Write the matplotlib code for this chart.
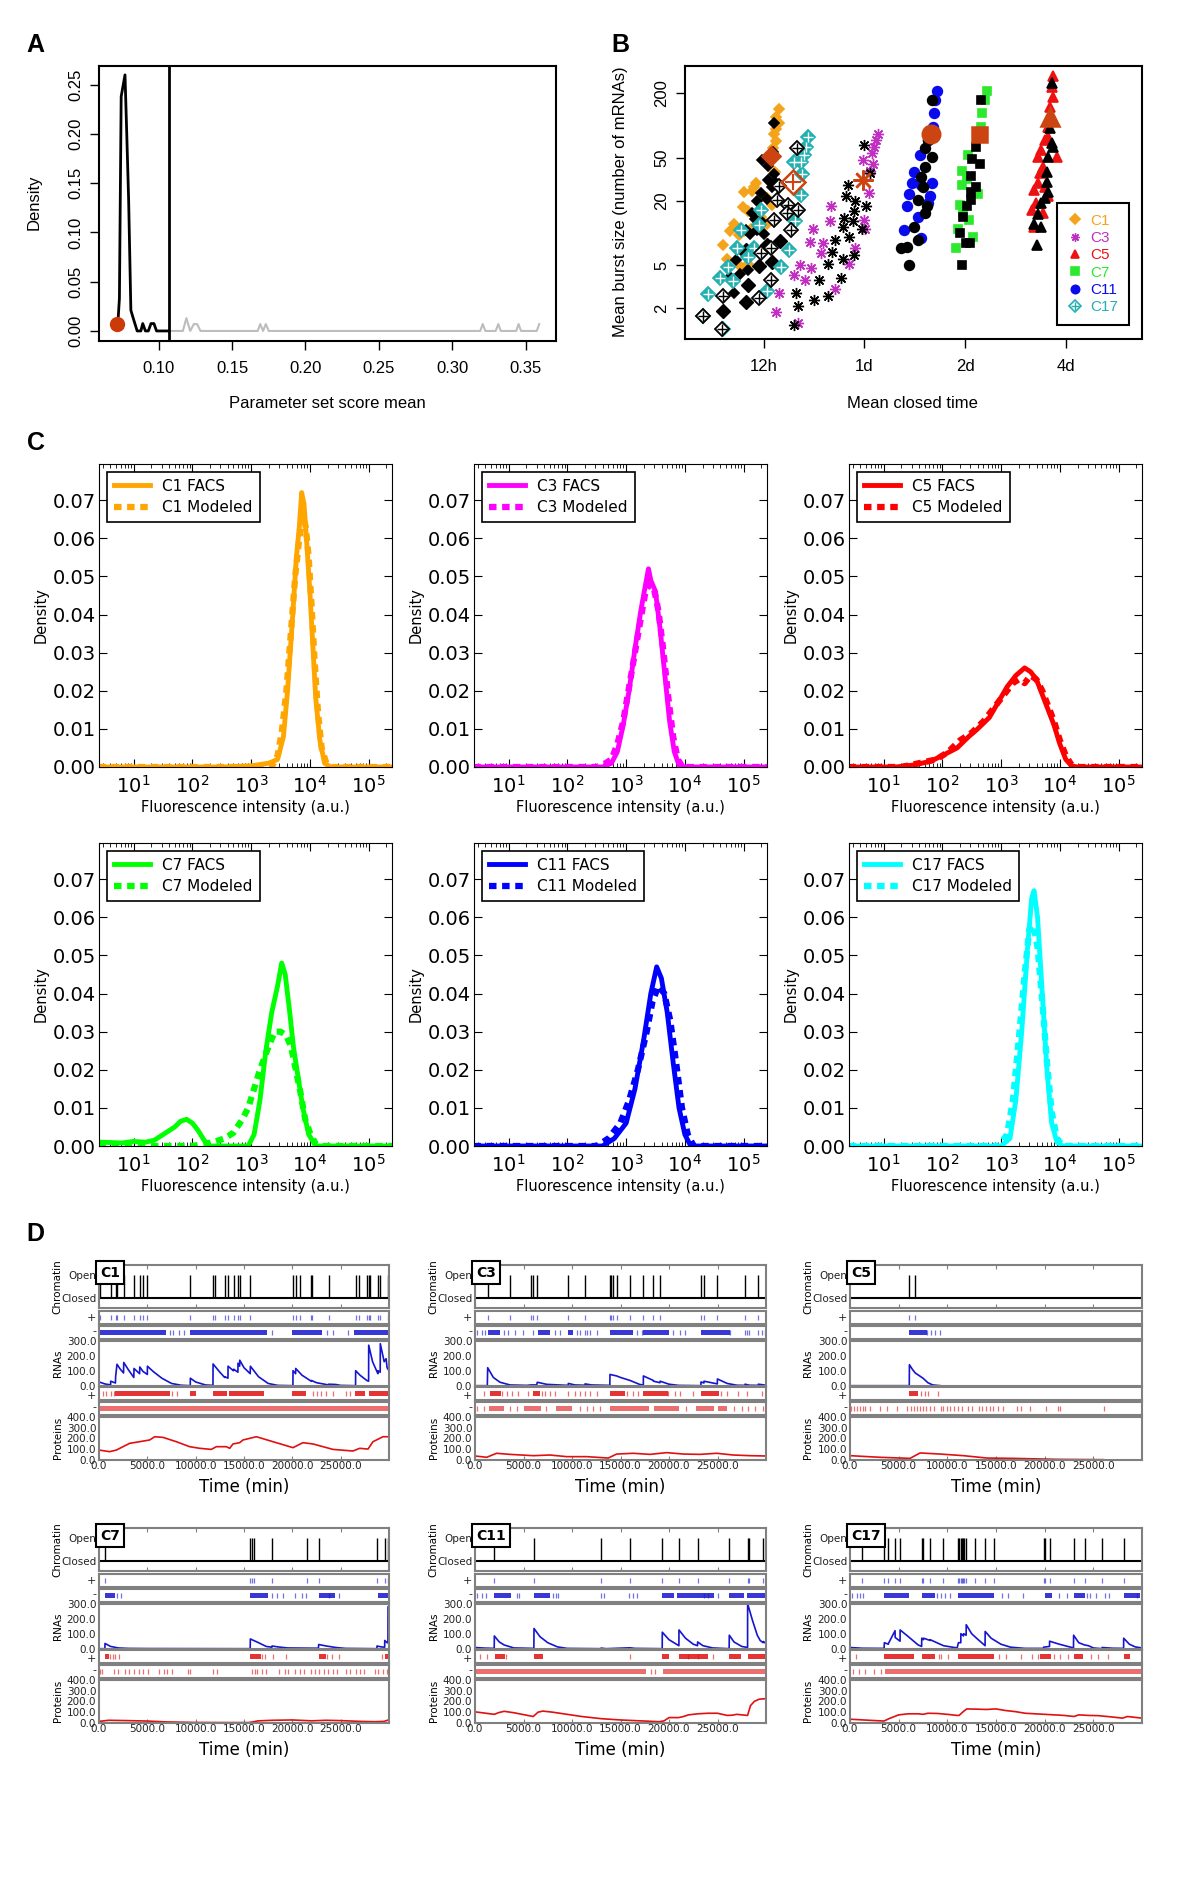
import matplotlib
matplotlib.use('Agg')
import matplotlib.pyplot as plt
from matplotlib.lines import Line2D

W, H = 1200, 1877
RF = 'Liberation Sans'   # R panels (A, B)

# ---------------- Panel A data: parameter set score density ----------------
a_black = [(0.0723, 0.009), (0.0733, 0.033), (0.0745, 0.238), (0.0771, 0.260), (0.0783, 0.200),
           (0.0796, 0.132), (0.0811, 0.021), (0.0829, 0.012), (0.0854, 0.0), (0.0879, 0.0),
           (0.0892, 0.0075), (0.0910, 0.0), (0.0930, 0.0), (0.0948, 0.0075), (0.0968, 0.0075),
           (0.0986, 0.0), (0.1068, 0.0)]
a_gray = [(0.1068, 0), (0.1165, 0), (0.1189, 0.013), (0.1215, 0), (0.1240, 0.007), (0.1262, 0.007),
          (0.1285, 0), (0.1675, 0), (0.1692, 0.007), (0.1711, 0), (0.1730, 0.007), (0.1750, 0),
          (0.3190, 0), (0.3207, 0.007), (0.3225, 0), (0.3295, 0), (0.3313, 0.007), (0.3330, 0),
          (0.3435, 0), (0.3451, 0.007), (0.3468, 0), (0.3575, 0), (0.3592, 0.007)]
a_best = (0.0716, 0.0075)
a_cutoff = 0.1068
a_xticks = [0.10, 0.15, 0.20, 0.25, 0.30, 0.35]
a_yticks = [0.00, 0.05, 0.10, 0.15, 0.20, 0.25]

# ---------------- Panel B data: (mean closed time [h], mean burst size) ----------------
b_c1 = [(13.3, 140), (13.1, 120), (13.3, 105), (13.1, 92), (12.9, 82), (13.1, 72), (12.8, 62), (13.0, 37),
        (11.4, 29), (11.2, 27), (10.5, 24), (11.1, 24.5), (10.4, 17.5), (10.8, 16), (9.8, 12), (9.5, 10.5),
        (9.1, 7.8), (10.1, 9.5), (10.5, 10.5), (10.0, 7), (12.3, 21), (11.8, 14), (12.3, 12), (11.0, 11),
        (9.3, 5.8), (10.8, 5.2), (10.3, 4.8), (12.7, 18)]
b_c1_bk = [(12.9, 105), (12.8, 57), (11.9, 48), (12.4, 42), (12.4, 31), (11.8, 23.5), (11.5, 19.7),
           (12.3, 20.5), (12.7, 27), (13.1, 29), (12.9, 35), (11.1, 15.2), (11.3, 13.6), (11.8, 13),
           (10.6, 10.6), (10.9, 9.8), (11.5, 10.6), (12.0, 9.8), (9.9, 5.6), (10.5, 6.5), (9.5, 3.9),
           (9.8, 2.75), (10.8, 4.5), (10.2, 4.2)]
b_c3 = [(26.3, 83), (25.9, 73), (25.7, 63), (25.3, 55), (23.8, 48), (25.4, 44), (25.0, 38), (24.8, 23.5),
        (23.9, 13.1), (24.1, 11.0), (22.5, 7.2), (21.6, 5.2), (19.6, 3.0), (19.1, 17.7), (18.9, 12.9),
        (16.9, 11.0), (16.5, 8.3), (18.1, 8.0), (17.8, 6.5), (15.4, 5.1), (16.6, 4.7), (14.8, 4.1),
        (15.9, 3.66), (13.3, 2.78), (13.1, 1.87), (15.2, 1.45)]
b_c3_bk = [(24.0, 65), (25.0, 36), (21.4, 28), (21.2, 22), (22.5, 19.7), (24.2, 17.7), (22.4, 16),
           (20.9, 13.7), (22.2, 12.9), (20.7, 11.4), (23.6, 11.0), (21.6, 9.2), (19.6, 8.6), (19.2, 6.7),
           (22.4, 6.3), (20.7, 5.8), (18.7, 5.2), (17.6, 3.7), (20.4, 3.8), (17.0, 2.4), (18.7, 2.6),
           (15.0, 2.75), (15.2, 2.1), (14.8, 1.4)]
b_c5 = [(88, 286), (87, 228), (88, 183), (86, 148), (87, 120), (85, 97), (83, 73), (81, 59), (79, 51),
        (82, 41), (80, 36), (79, 29), (83, 27), (77, 25), (85, 22), (78, 19), (76, 16.5), (82, 15.2),
        (77, 11.4), (85, 78), (90, 51)]
b_c5_bk = [(87, 244), (86, 94), (87, 68), (85, 51), (84, 37), (84, 30), (85, 24), (81, 19), (79, 15),
           (77, 12), (81, 11.4), (78.5, 7.8), (83, 21), (88, 63)]
b_c7 = [(55.7, 209), (55.0, 171), (54, 129), (53.6, 97), (53, 79), (49, 53), (46.8, 38), (48.5, 32),
        (46.9, 28), (52.4, 23), (46.4, 18), (47.4, 15.2), (49.2, 13.1), (45.6, 11.0), (50.5, 9.2), (45, 7.2)]
b_c7_bk = [(53.6, 171), (52.4, 79), (51.6, 63), (50.2, 49), (53, 44), (50.0, 34), (51.6, 27), (50, 24),
           (50, 20.4), (48.5, 17.7), (47.4, 14.2), (46.4, 10.1), (48.1, 8.0), (49.5, 8.0), (46.8, 5.0)]
b_c11 = [(39.5, 207), (39.0, 171), (38.7, 129), (38.4, 97), (37.1, 73), (35.1, 53), (33.8, 37), (33.3, 29),
         (35.5, 28), (32.6, 23), (37.6, 22), (32.1, 17.8), (34.8, 14.2), (31.6, 10.7), (35.4, 9.0),
         (38.3, 29), (37.1, 19)]
b_c11_bk = [(38.3, 171), (37.2, 73), (36.3, 61), (38.3, 51), (36.5, 41), (35.5, 33), (36.0, 27), (34.8, 20.4),
            (37.0, 17.7), (36.3, 15.2), (33.8, 11.4), (34.8, 8.6), (32.1, 7.4), (32.6, 5.0), (30.8, 7.2)]
b_c17 = [(16.3, 78), (16.1, 63), (15.8, 53), (15.5, 46), (14.8, 46), (15.6, 35), (15.5, 22.7), (14.9, 12.8),
         (14.3, 7.0), (13.5, 4.8), (12.3, 2.9), (11.8, 16.5), (11.6, 11.8), (11.2, 7.3), (10.8, 6.0),
         (10.0, 7.3), (9.4, 4.8), (8.9, 3.8), (9.7, 3.6), (8.2, 2.7), (7.9, 1.7), (9.1, 1.3), (10.3, 10.6)]
b_c17_bk = [(15.1, 61), (13.3, 27.5), (13.2, 20.2), (14.2, 18.1), (15.2, 16.5), (14.1, 15.2), (12.9, 13.1),
            (14.5, 10.6), (12.6, 7.2), (11.8, 6.5), (12.6, 3.7), (11.6, 2.5), (9.1, 2.6), (7.9, 1.7), (9.0, 1.3)]
b_bk_big = [(9.1, 1.9), (10.6, 2.3), (10.8, 3.3), (13.4, 8.5), (12.3, 7.7), (12.7, 5.4), (11.6, 4.9), (10.6, 6.9)]
b_best = {'C1': (12.6, 51.7), 'C3': (23.8, 31), 'C5': (86, 120), 'C7': (52.6, 82),
          'C11': (38.0, 82), 'C17': (14.7, 30)}
b_xticks = [12, 24, 48, 96]
b_xlabels = ['12h', '1d', '2d', '4d']
b_yticks = [2, 5, 20, 50, 200]

# ---------------- Panel C data: (log10 intensity, density) ----------------
c1_facs = [(0.4, 0), (2.5, 0), (3.0, 0.0003), (3.3, 0.001), (3.45, 0.002), (3.55, 0.008), (3.62, 0.02),
           (3.7, 0.038), (3.77, 0.055), (3.82, 0.063), (3.86, 0.072), (3.9, 0.069), (3.95, 0.058),
           (4.0, 0.046), (4.05, 0.032), (4.1, 0.018), (4.17, 0.007), (4.25, 0.001), (4.35, 0), (5.4, 0)]
c1_model = [(0.4, 0), (3.35, 0), (3.45, 0.003), (3.52, 0.009), (3.6, 0.02), (3.68, 0.036), (3.75, 0.05),
            (3.82, 0.06), (3.88, 0.066), (3.93, 0.063), (3.98, 0.055), (4.03, 0.042), (4.08, 0.028),
            (4.14, 0.014), (4.2, 0.005), (4.28, 0.001), (4.35, 0), (5.4, 0)]
c3_facs = [(0.4, 0), (2.6, 0), (2.75, 0.001), (2.85, 0.004), (2.95, 0.011), (3.05, 0.02), (3.15, 0.031),
           (3.25, 0.041), (3.32, 0.047), (3.38, 0.052), (3.42, 0.049), (3.5, 0.046), (3.58, 0.036),
           (3.66, 0.024), (3.74, 0.012), (3.82, 0.004), (3.9, 0.0005), (4.0, 0), (5.4, 0)]
c3_model = [(0.4, 0), (2.5, 0), (2.65, 0.001), (2.75, 0.002), (2.85, 0.006), (2.95, 0.012), (3.05, 0.021),
            (3.15, 0.03), (3.25, 0.039), (3.33, 0.046), (3.4, 0.048), (3.47, 0.047), (3.55, 0.041),
            (3.63, 0.031), (3.72, 0.018), (3.8, 0.008), (3.88, 0.002), (3.96, 0), (5.4, 0)]
c5_facs = [(0.4, 0), (1.2, 0), (1.5, 0.0005), (1.8, 0.0015), (2.0, 0.003), (2.25, 0.005), (2.45, 0.008),
           (2.6, 0.01), (2.8, 0.013), (2.95, 0.017), (3.1, 0.021), (3.25, 0.024), (3.4, 0.026), (3.5, 0.025),
           (3.6, 0.023), (3.7, 0.019), (3.8, 0.015), (3.9, 0.011), (4.0, 0.006), (4.1, 0.002), (4.2, 0.0003),
           (4.3, 0), (5.4, 0)]
c5_model = [(0.4, 0), (1.3, 0), (1.6, 0.001), (1.9, 0.002), (2.1, 0.004), (2.3, 0.007), (2.5, 0.009),
            (2.7, 0.012), (2.9, 0.016), (3.05, 0.019), (3.2, 0.022), (3.3, 0.023), (3.4, 0.022), (3.5, 0.024),
            (3.6, 0.023), (3.7, 0.02), (3.8, 0.016), (3.9, 0.012), (4.0, 0.007), (4.1, 0.003), (4.2, 0.0005),
            (4.3, 0), (5.4, 0)]
c7_facs = [(0.45, 0.001), (0.8, 0.0008), (1.0, 0.0012), (1.2, 0.001), (1.35, 0.0015), (1.5, 0.003),
           (1.6, 0.004), (1.7, 0.005), (1.8, 0.0065), (1.9, 0.007), (2.0, 0.006), (2.1, 0.004), (2.2, 0.0015),
           (2.3, 0), (2.95, 0), (3.05, 0.003), (3.15, 0.012), (3.25, 0.025), (3.35, 0.035), (3.45, 0.042),
           (3.52, 0.048), (3.58, 0.045), (3.65, 0.036), (3.72, 0.026), (3.8, 0.018), (3.88, 0.01),
           (3.98, 0.003), (4.1, 0), (5.4, 0)]
c7_model = [(0.4, 0), (2.0, 0), (2.35, 0.001), (2.55, 0.002), (2.7, 0.0035), (2.85, 0.007), (2.95, 0.01),
            (3.05, 0.015), (3.15, 0.02), (3.27, 0.025), (3.4, 0.03), (3.5, 0.03), (3.6, 0.029), (3.68, 0.026),
            (3.76, 0.02), (3.84, 0.014), (3.92, 0.007), (4.0, 0.0035), (4.1, 0.0005), (4.2, 0), (5.4, 0)]
c11_facs = [(0.4, 0), (2.6, 0), (2.8, 0.002), (3.0, 0.006), (3.15, 0.015), (3.3, 0.028), (3.42, 0.04),
            (3.52, 0.047), (3.6, 0.044), (3.7, 0.035), (3.8, 0.022), (3.9, 0.01), (4.0, 0.003), (4.1, 0), (5.4, 0)]
c11_model = [(0.4, 0), (2.5, 0), (2.7, 0.002), (2.9, 0.006), (3.05, 0.012), (3.2, 0.02), (3.35, 0.03),
             (3.45, 0.038), (3.55, 0.042), (3.65, 0.04), (3.75, 0.033), (3.85, 0.022), (3.95, 0.01),
             (4.05, 0.003), (4.15, 0), (5.4, 0)]
c17_facs = [(0.4, 0), (3.0, 0), (3.15, 0.002), (3.25, 0.012), (3.35, 0.03), (3.45, 0.052), (3.52, 0.065),
            (3.56, 0.067), (3.62, 0.06), (3.7, 0.04), (3.78, 0.02), (3.86, 0.006), (3.95, 0.001), (4.05, 0), (5.4, 0)]
c17_model = [(0.4, 0), (2.95, 0), (3.1, 0.003), (3.2, 0.012), (3.3, 0.028), (3.4, 0.045), (3.48, 0.057),
             (3.55, 0.058), (3.62, 0.052), (3.7, 0.038), (3.78, 0.022), (3.86, 0.009), (3.95, 0.002), (4.05, 0), (5.4, 0)]
c_yticks = [0.00, 0.01, 0.02, 0.03, 0.04, 0.05, 0.06, 0.07]

# ---------------- Panel D data: stochastic traces (time in min) ----------------
c1_open = [69, 1207, 1724, 1862, 2552, 3620, 4207, 4551, 5000, 9448, 11793, 11965, 13000, 13345, 13931,
           14379, 14552, 15655, 20069, 20345, 20758, 21965, 22034, 23759, 26552, 26896, 27758, 27896, 28000,
           28862, 29103, 29897]
c1_deg_bands = [(0, 6900), (9400, 8000), (20000, 3100), (26400, 3600)]
c1_deg = [7300, 7700, 8300, 8800, 17900, 23600, 24200, 25800]
c1_rna = [(0, 25), (600, 12), (1200, 5), (1210, 30), (1700, 18), (1720, 60), (1860, 143), (2200, 110),
          (2540, 85), (2560, 155), (3000, 110), (3600, 55), (3620, 115), (4200, 80), (4220, 125), (4550, 95),
          (5000, 75), (5010, 130), (5600, 95), (6500, 50), (7500, 15), (8500, 3), (9440, 0), (9450, 50),
          (10000, 25), (11000, 5), (11790, 2), (11800, 145), (12500, 90), (13000, 55), (13010, 60), (13340, 50),
          (13350, 130), (13900, 100), (13930, 110), (14370, 90), (14380, 150), (14550, 130), (14560, 170),
          (15000, 120), (15640, 80), (15660, 130), (16500, 60), (17500, 15), (18500, 2), (20060, 0),
          (20070, 100), (20340, 80), (20350, 115), (21000, 70), (21950, 30), (21970, 35), (22500, 20),
          (23750, 5), (23760, 10), (24500, 8), (25000, 2), (26540, 0), (26550, 100), (27000, 70), (27700, 35),
          (27890, 30), (27900, 270), (28300, 160), (28850, 80), (28860, 100), (29090, 90), (29100, 280),
          (29500, 160), (29700, 180), (29800, 120), (30000, 100)]
c1_tl_bands = [(1700, 5600), (9450, 600), (11800, 1400), (13400, 3700), (20000, 1400), (26500, 1000), (27900, 2100)]
c1_tl = [400, 750, 1200, 1500, 7600, 8100, 22100, 22500, 23000, 23500, 24200, 25600, 26000]
c1_pdeg_bands = [(0, 30000)]
c1_pdeg = []
c1_prot = [(0, 92), (1100, 77), (1800, 92), (3170, 154), (4200, 169), (5240, 185), (5760, 215), (6620, 209),
           (8000, 169), (9380, 123), (10410, 108), (11620, 98), (12140, 123), (13170, 123), (13520, 108),
           (13860, 148), (14550, 160), (14900, 185), (16280, 215), (18000, 169), (20070, 114), (21100, 160),
           (22140, 148), (23170, 123), (24200, 98), (26270, 83), (26970, 108), (27830, 101), (28340, 169),
           (29380, 215), (30000, 215)]

c3_open = [1306, 3608, 5772, 6013, 6425, 9621, 11339, 13916, 14019, 14259, 14603, 15977, 17352, 18383,
           19070, 23296, 23605, 24980, 27832, 29206]
c3_deg_bands = [(1306, 1300), (6500, 1200), (9620, 500), (13900, 2400), (17350, 2600), (23300, 3000)]
c3_deg = [172, 687, 1031, 2955, 3436, 4123, 4982, 5945, 8247, 8763, 10480, 10824, 11339, 11510, 11854,
          12541, 16666, 17180, 20439, 21126, 21641, 26285, 27832, 27999, 28270, 29206, 29549, 29893]
c3_rna = [(0, 0), (1270, 0), (1306, 120), (1890, 55), (2577, 23), (3608, 5), (5326, 2), (5772, 5), (6357, 5),
          (6425, 23), (7387, 9), (9600, 2), (9621, 15), (10300, 5), (11339, 3), (11350, 12), (12000, 5),
          (13900, 2), (13916, 75), (14259, 70), (14603, 65), (15000, 55), (15977, 35), (17000, 8), (17352, 5),
          (17360, 65), (18383, 35), (18400, 30), (19070, 20), (19080, 30), (20000, 10), (21000, 2), (23290, 0),
          (23296, 25), (23600, 18), (23605, 30), (24980, 12), (24990, 45), (26000, 15), (27000, 3), (27832, 2),
          (27840, 10), (28300, 3), (29206, 2), (29210, 10), (30000, 3)]
c3_tl_bands = [(1546, 1100), (6000, 700), (13900, 1600), (17350, 2500), (23300, 1900)]
c3_tl = [929, 2749, 3264, 3779, 4467, 5497, 6871, 7215, 7731, 8247, 9621, 10308, 10824, 11339, 11854,
         12541, 15634, 16321, 16837, 19930, 20617, 21126, 22500, 25327, 26000, 27141, 28000, 29549]
c3_pdeg_bands = [(1400, 1600), (5000, 1800), (8400, 1600), (13900, 4000), (18500, 2500), (22800, 1800), (25000, 1000)]
c3_pdeg = [172, 900, 3600, 4300, 7300, 10800, 11500, 12200, 12900, 21800, 26700, 27500, 28100, 28900, 29700]
c3_prot = [(0, 37), (1200, 25), (2230, 62), (3600, 52), (6010, 40), (7730, 46), (9450, 31), (11510, 31),
           (13740, 18), (14600, 55), (16320, 62), (18040, 52), (19760, 68), (21480, 55), (23190, 52),
           (24910, 62), (26630, 46), (28350, 40), (30000, 37)]

c5_open = [6103, 6686]
c5_deg_bands = [(6103, 1800)]
c5_deg = [7900, 8300, 8700, 9258]
c5_rna = [(0, 0), (6090, 0), (6103, 140), (6400, 110), (6700, 85), (7500, 50), (8000, 20), (8500, 5), (9300, 0)]
c5_tl_bands = [(6103, 900)]
c5_tl = [7300, 7700, 8000, 9000]
c5_pdeg_bands = []
c5_pdeg = [100, 400, 700, 1000, 1300, 1500, 2100, 3100, 3800, 4800, 5900, 6300, 6600, 6900, 7200, 7500,
           7800, 8200, 8600, 9300, 9600, 10000, 10300, 10700, 11100, 11500, 12100, 12500, 13300, 13600,
           14000, 14400, 14700, 15200, 15700, 17200, 17600, 18500, 20100, 21400, 21600, 26100]
c5_prot = [(0, 40), (3090, 25), (6170, 15), (7200, 65), (9260, 55), (11660, 40), (14060, 18), (16800, 15),
           (21260, 6), (26000, 3)]

c7_open = [621, 15655, 15827, 16000, 17897, 21552, 22724, 28758, 29552, 29897]
c7_deg_bands = [(621, 1000), (15655, 1800), (22724, 1700), (28900, 1100)]
c7_deg = [1900, 2300, 17900, 18400, 19000, 20300, 21000, 21400, 23800, 24800]
c7_rna = [(0, 0), (610, 0), (621, 35), (1200, 15), (2000, 5), (3000, 2), (5000, 1), (15640, 0), (15655, 65),
          (16500, 40), (17300, 15), (17890, 10), (17900, 18), (18500, 12), (19500, 5), (22700, 3), (22724, 28),
          (23500, 18), (24500, 8), (25500, 2), (28750, 0), (28758, 18), (29200, 12), (29552, 10), (29560, 55),
          (29800, 40), (29890, 40), (29900, 280), (30000, 280)]
c7_tl_bands = [(621, 400), (15655, 1100), (22724, 800), (29600, 400)]
c7_tl = [1100, 1400, 1700, 2100, 16900, 17200, 18000, 19300, 23600, 24100, 24800, 29300]
c7_pdeg_bands = []
c7_pdeg = [100, 300, 1500, 2000, 2700, 3100, 3600, 4100, 4600, 5100, 6200, 6700, 7000, 7500, 9200, 9400,
           11800, 12200, 15800, 16100, 16300, 16900, 17300, 18600, 19200, 19500, 20300, 20800, 21200, 21900,
           22300, 22800, 23300, 23700, 24200, 24600, 25500, 26000, 26600, 27000, 27400, 28500, 28900, 29400, 29800]
c7_prot = [(0, 15), (1000, 25), (3000, 22), (5000, 18), (7000, 10), (10000, 5), (13000, 4), (15500, 4),
           (16500, 20), (18000, 25), (20000, 28), (22000, 20), (23500, 25), (25000, 22), (27000, 15),
           (28500, 12), (29500, 15), (30000, 30)]

c11_open = [1993, 6082, 12954, 15977, 19310, 21028, 22952, 26216, 28106, 28209, 29721]
c11_deg_bands = [(1993, 1700), (6082, 1700), (19310, 1200), (20800, 3800), (26216, 1500), (28000, 2000)]
c11_deg = [200, 700, 1100, 4300, 4500, 8000, 8300, 8600, 13000, 13300, 15900, 16300, 16700, 23600, 24000, 25000]
c11_rna = [(0, 8), (1000, 4), (1980, 2), (1993, 85), (2500, 45), (3000, 25), (4000, 5), (6070, 2), (6082, 135),
           (6700, 80), (7500, 40), (8500, 12), (9500, 2), (12950, 0), (13000, 4), (13500, 0), (15977, 6),
           (16500, 2), (19300, 0), (19310, 110), (20000, 60), (21020, 20), (21028, 125), (21700, 70),
           (22500, 30), (22940, 20), (22952, 45), (23500, 20), (24500, 5), (26200, 0), (26216, 90),
           (26700, 45), (27500, 15), (28100, 8), (28106, 300), (28600, 190), (29100, 90), (29400, 55),
           (29700, 40), (29721, 48), (30000, 35)]
c11_tl_bands = [(2100, 1000), (6082, 900), (19310, 700), (21028, 3000), (26216, 1200), (28106, 1900)]
c11_tl = [500, 1200, 3200, 15977, 22000, 23000, 24500]
c11_pdeg_bands = [(0, 17600), (19400, 10600)]
c11_pdeg = [18100, 18600]
c11_prot = [(0, 103), (2000, 80), (2400, 95), (3000, 108), (4000, 95), (6000, 60), (6500, 100), (7000, 110),
            (8000, 100), (9500, 80), (11000, 60), (13000, 40), (15000, 28), (17000, 20), (19000, 12),
            (19500, 20), (20000, 50), (21000, 50), (21500, 60), (22000, 75), (23000, 85), (24000, 90),
            (25000, 90), (26000, 70), (26500, 72), (27000, 80), (27500, 75), (28100, 70), (28400, 160),
            (28800, 200), (29300, 220), (30000, 225)]

c17_open = [1269, 3532, 3943, 4629, 5143, 7372, 7544, 8229, 9601, 11144, 11247, 11384, 11487, 11658, 11761,
            11933, 12858, 13887, 14813, 19888, 19991, 20505, 22974, 24106, 25889, 28118]
c17_deg_bands = [(3532, 2500), (7372, 1400), (11144, 3600), (19991, 800), (22974, 1200), (28118, 1700)]
c17_deg = [200, 700, 1000, 1300, 8900, 9300, 9800, 10300, 15600, 16200, 17800, 21500, 22300, 24300,
           24700, 25300, 26200, 26600, 29500]
c17_rna = [(0, 8), (1269, 3), (3500, 2), (3532, 40), (3943, 30), (3950, 35), (4629, 120), (4640, 75),
           (5143, 50), (5150, 125), (6000, 80), (7000, 25), (7360, 15), (7372, 70), (7544, 60), (7550, 70),
           (8229, 55), (8240, 60), (9600, 20), (11000, 5), (11144, 40), (11384, 40), (11390, 100), (11658, 85),
           (11665, 100), (11933, 90), (11940, 160), (12500, 100), (13000, 70), (13880, 20), (13887, 115),
           (14500, 70), (15500, 30), (16500, 10), (18000, 2), (19880, 2), (19888, 10), (20500, 15), (20505, 50),
           (21500, 30), (22960, 5), (22974, 90), (23500, 40), (24100, 25), (24500, 20), (25000, 5), (25889, 0),
           (25900, 8), (27000, 3), (28110, 2), (28118, 70), (28700, 30), (29300, 12), (30000, 5)]
c17_tl_bands = [(3532, 3000), (7372, 1400), (11144, 3700), (19500, 1200), (22974, 1000), (28118, 600)]
c17_tl = [600, 9100, 9400, 10100, 15300, 16000, 17600, 18700, 19300, 21000, 21600, 22400, 24800, 25500, 26500]
c17_pdeg_bands = [(3600, 26400)]
c17_pdeg = [300, 900, 1500, 2500, 3200]
c17_prot = [(0, 35), (2000, 25), (3500, 18), (4000, 40), (5000, 75), (6000, 85), (7000, 85), (7500, 80),
            (8000, 90), (9000, 88), (10000, 80), (11000, 70), (11200, 70), (11700, 110), (12000, 130),
            (13000, 128), (14000, 125), (15000, 130), (16000, 115), (17000, 105), (18000, 90), (19000, 85),
            (20000, 80), (21000, 75), (22000, 70), (23000, 60), (23500, 75), (24500, 70), (25500, 68),
            (27000, 55), (28000, 45), (28500, 60), (29000, 55), (30000, 45)]
d_xticks = [0, 5000, 10000, 15000, 20000, 25000]

# ---------------------------------------------------------------------------
fig = plt.figure(figsize=(W / 100, H / 100), dpi=100)


def px_axes(x0, y0, x1, y1):
    return fig.add_axes([x0 / W, 1 - y1 / H, (x1 - x0) / W, (y1 - y0) / H])


def ftext(x, y, s, **kw):
    return fig.text(x / W, 1 - y / H, s, **kw)


def r_style(ax):
    for s in ax.spines.values():
        s.set_linewidth(1.5)
    ax.tick_params(direction='out', length=6.5, width=1, labelsize=12)
    ax.tick_params(axis='x', pad=8)
    ax.tick_params(axis='y', pad=5)
    for lab in ax.get_xticklabels() + ax.get_yticklabels():
        lab.set_family(RF)


for lab, x, y in [('A', 26, 45), ('B', 611, 45), ('C', 27, 443), ('D', 26, 1234)]:
    ftext(x, y, lab, fontsize=18, fontweight='bold', family=RF, va='center', ha='left')

# ---------------- A ----------------
axA = px_axes(99, 66, 556, 341)
axA.plot([p[0] for p in a_gray], [p[1] for p in a_gray], color='#bdbdbd', lw=1.5)
axA.plot([p[0] for p in a_black], [p[1] for p in a_black], color='black', lw=2)
axA.axvline(a_cutoff, color='black', lw=2)
axA.plot([a_best[0]], [a_best[1]], 'o', color='#cc3a0a', ms=10)
axA.set_xlim(0.0594, 0.3706)
axA.set_ylim(-0.0102, 0.269)
axA.set_xticks(a_xticks)
axA.set_xticklabels(['%.2f' % v for v in a_xticks])
axA.set_yticks(a_yticks)
axA.set_yticklabels(['%.2f' % v for v in a_yticks], rotation=90, va='center')
r_style(axA)
ftext(34, 202, 'Density', rotation=90, fontsize=12, family=RF, ha='center', va='center')
ftext(327, 404, 'Parameter set score mean', fontsize=12, family=RF, ha='center', va='center')

# ---------------- B ----------------
axB = px_axes(685, 66, 1142, 339)
HL = '#cc4411'
groups = [
    ('C1', b_c1, b_c1_bk, 'D', '#f5a31a', 5),
    ('C3', b_c3, b_c3_bk, (8, 2, 0), '#c030c0', 8),
    ('C5', b_c5, b_c5_bk, '^', '#ee1111', 7),
    ('C7', b_c7, b_c7_bk, 's', '#2ee82e', 6),
    ('C11', b_c11, b_c11_bk, 'o', '#0a0aee', 7),
]
for name, pts, bk, mk, col, ms in groups:
    mew = 1.0 if name == 'C3' else 1.2
    kw = dict(ls='none', marker=mk, ms=ms, mew=mew)
    axB.plot([p[0] for p in pts], [p[1] for p in pts], color=col, mec=col, **kw)
    axB.plot([p[0] for p in bk], [p[1] for p in bk], color='black', mec='black', **kw)
    axB.plot([b_best[name][0]], [b_best[name][1]], ls='none', marker=mk, ms=ms * 1.8,
             color=HL, mec=HL, mew=1.8)
teal = '#22b0b0'
axB.plot([p[0] for p in b_bk_big], [p[1] for p in b_bk_big], ls='none', marker='D', ms=7, color='black')
for pts, col in [(b_c17, teal), (b_c17_bk, 'black')]:
    xs = [p[0] for p in pts]
    ys = [p[1] for p in pts]
    axB.plot(xs, ys, ls='none', marker='D', ms=7, mfc=col if col == teal else 'white', mec=col, mew=1.3)
    axB.plot(xs, ys, ls='none', marker='+', ms=7, mec='white' if col == teal else col, mew=1.0)
axB.plot([b_best['C17'][0]], [b_best['C17'][1]], ls='none', marker='D', ms=12, mfc='none', mec=HL, mew=1.8)
axB.plot([b_best['C17'][0]], [b_best['C17'][1]], ls='none', marker='+', ms=12, mec=HL, mew=1.5)
axB.set_xscale('log', base=2)
axB.set_yscale('log')
axB.set_xlim(6.99, 161.8)
axB.set_ylim(1.04, 354)
axB.set_xticks(b_xticks)
axB.set_xticklabels(b_xlabels)
axB.set_yticks(b_yticks)
axB.set_yticklabels([str(v) for v in b_yticks], rotation=90, va='center')
axB.minorticks_off()
r_style(axB)
ftext(621, 202, 'Mean burst size (number of mRNAs)', rotation=90, fontsize=12, family=RF,
      ha='center', va='center')
ftext(912, 404, 'Mean closed time', fontsize=12, family=RF, ha='center', va='center')

handles = [Line2D([], [], ls='none', marker=g[3], color=g[4], mec=g[4], ms=5 if g[0] == 'C1' else 6,
                  mew=1.0 if g[0] == 'C3' else 1.2) for g in groups]
handles.append((Line2D([], [], ls='none', marker='D', ms=6, mfc='white', mec=teal, mew=1.2),
                Line2D([], [], ls='none', marker='+', ms=6, mec=teal, mew=1.0)))
leg = axB.legend(handles, [g[0] for g in groups] + ['C17'], loc='lower left',
                 bbox_to_anchor=(0.814, 0.051), borderaxespad=0, fancybox=False, edgecolor='black',
                 framealpha=1, handlelength=1.0, handletextpad=0.5, labelspacing=0.22,
                 borderpad=0.7, prop={'family': RF, 'size': 11},
                 labelcolor=[g[4] for g in groups] + [teal])
leg.get_frame().set_linewidth(1.5)

# ---------------- C ----------------
c_specs = [
    ('C1', c1_facs, c1_model, 'orange', 99, 464),
    ('C3', c3_facs, c3_model, 'magenta', 474, 464),
    ('C5', c5_facs, c5_model, 'red', 849, 464),
    ('C7', c7_facs, c7_model, 'lime', 99, 843),
    ('C11', c11_facs, c11_model, 'blue', 474, 843),
    ('C17', c17_facs, c17_model, 'cyan', 849, 843),
]
for name, facs, model, col, x0, y0 in c_specs:
    ax = px_axes(x0, y0, x0 + 293, y0 + 303)
    ax.plot([10 ** p[0] for p in facs], [p[1] for p in facs], color=col, lw=3.5, label=name + ' FACS')
    ax.plot([10 ** p[0] for p in model], [p[1] for p in model], color=col, lw=4.5,
            ls=(0, (1.2, 0.9)), label=name + ' Modeled')
    ax.set_xscale('log')
    ax.set_xlim(2.57, 2.5e5)
    ax.set_ylim(0, 0.0795)
    ax.set_xticks([1e1, 1e2, 1e3, 1e4, 1e5])
    ax.set_yticks(c_yticks)
    ax.set_yticklabels(['%.2f' % v for v in c_yticks])
    ax.tick_params(which='both', direction='in', top=True, right=True, labelsize=14)
    ax.tick_params(which='major', length=6)
    ax.tick_params(which='minor', length=3)
    ax.tick_params(axis='y', pad=2)
    ax.tick_params(axis='x', pad=6)
    ax.set_xlabel('Fluorescence intensity (a.u.)', fontsize=10.5, labelpad=2)
    ax.set_ylabel('Density', fontsize=10.5, labelpad=3)
    lg = ax.legend(loc='upper left', fontsize=11, fancybox=False, edgecolor='black', framealpha=1,
                   handlelength=2.4, borderaxespad=0.5, borderpad=0.45, labelspacing=0.45)
    lg.get_frame().set_linewidth(1.2)

# ---------------- D ----------------
strip_rows = [(0, 43.3), (45.7, 59), (61, 74), (75.7, 120.7), (121.7, 135), (136.7, 150), (151.7, 195)]
d_specs = [
    ('C1', 99, 389, 1265, c1_open, c1_deg_bands, c1_deg, c1_rna, c1_tl_bands, c1_tl, c1_pdeg_bands, c1_pdeg, c1_prot),
    ('C3', 475, 766, 1265, c3_open, c3_deg_bands, c3_deg, c3_rna, c3_tl_bands, c3_tl, c3_pdeg_bands, c3_pdeg, c3_prot),
    ('C5', 850, 1142, 1265, c5_open, c5_deg_bands, c5_deg, c5_rna, c5_tl_bands, c5_tl, c5_pdeg_bands, c5_pdeg, c5_prot),
    ('C7', 99, 389, 1528, c7_open, c7_deg_bands, c7_deg, c7_rna, c7_tl_bands, c7_tl, c7_pdeg_bands, c7_pdeg, c7_prot),
    ('C11', 475, 766, 1528, c11_open, c11_deg_bands, c11_deg, c11_rna, c11_tl_bands, c11_tl, c11_pdeg_bands, c11_pdeg, c11_prot),
    ('C17', 850, 1142, 1528, c17_open, c17_deg_bands, c17_deg, c17_rna, c17_tl_bands, c17_tl, c17_pdeg_bands, c17_pdeg, c17_prot),
]
BLUE = '#1515d0'
RED = '#e01010'
for (name, x0, x1, top, opn, dbands, dticks, rna, tbands, tticks, pbands, pticks, prot) in d_specs:
    axs = [px_axes(x0, top + a, x1, top + b) for a, b in strip_rows]
    for ax in axs:
        ax.set_xlim(0, 30000)
        ax.set_xticks(d_xticks)
        for s in ax.spines.values():
            s.set_color('#808080')
            s.set_linewidth(1.5)
        ax.tick_params(direction='in', length=0, labelsize=7.5, labelbottom=False, colors='#222222')
        ax.tick_params(axis='y', pad=2)
    ch, bp, bm, rn, rp, rm, pr = axs
    ch.tick_params(axis='x', top=True, length=3, color='#808080')
    pr.tick_params(axis='x', length=3, color='#808080')
    # chromatin
    ch.hlines(0, 0, 30000, color='black', lw=1.5)
    ch.vlines(opn, 0, 1, color='black', lw=1.0)
    ch.set_ylim(-0.43, 1.43)
    ch.set_yticks([0, 1])
    ch.set_yticklabels(['Closed', 'Open'])
    ch.set_ylabel('Chromatin', fontsize=7.5)
    ch.text(0.004, 0.985, name, transform=ch.transAxes, ha='left', va='top', fontsize=10,
            fontweight='bold', zorder=10,
            bbox=dict(boxstyle='square,pad=0.3', fc='white', ec='black', lw=1.5))
    # event rows (+ / - markers of births and deaths); label height nudged away from neighbours
    for ax, bands, ticks, col, sym, al, ly in [(bp, [], opn, BLUE, '+', 0.8, 0.5),
                                               (bm, dbands, dticks, BLUE, '-', 0.85, 0.65),
                                               (rp, tbands, tticks, RED, '+', 0.85, 0.35),
                                               (rm, pbands, pticks, RED, '-', 0.6, 0.65)]:
        ax.set_ylim(0, 1)
        if bands:
            ax.broken_barh(bands, (0.33, 0.34), color=col, alpha=al, lw=0)
        ax.vlines(ticks, 0.33, 0.67, color=col, lw=0.9, alpha=0.6)
        ax.set_yticks([ly])
        ax.set_yticklabels([sym], fontsize=8)
    # RNA
    rn.plot([p[0] for p in rna], [p[1] for p in rna], color=BLUE, lw=1.2)
    rn.set_ylim(0, 300)
    rn.set_yticks([0, 100, 200, 300])
    rn.set_yticklabels(['0.0', '100.0', '200.0', '300.0'])
    rn.set_ylabel('RNAs', fontsize=7.5)
    # proteins
    pr.plot([p[0] for p in prot], [p[1] for p in prot], color=RED, lw=1.2)
    pr.set_ylim(0, 400)
    pr.set_yticks([0, 100, 200, 300, 400])
    pr.set_yticklabels(['0.0', '100.0', '200.0', '300.0', '400.0'])
    pr.set_ylabel('Proteins', fontsize=7.5)
    pr.tick_params(labelbottom=True, axis='x', pad=1)
    pr.set_xticklabels(['%.1f' % v for v in d_xticks])
    pr.set_xlabel('Time (min)', fontsize=12, labelpad=5)
    for ax in (ch, rn, pr):
        ax.yaxis.set_label_coords(-0.125, 0.5)

fig.savefig('out.png', dpi=100)
